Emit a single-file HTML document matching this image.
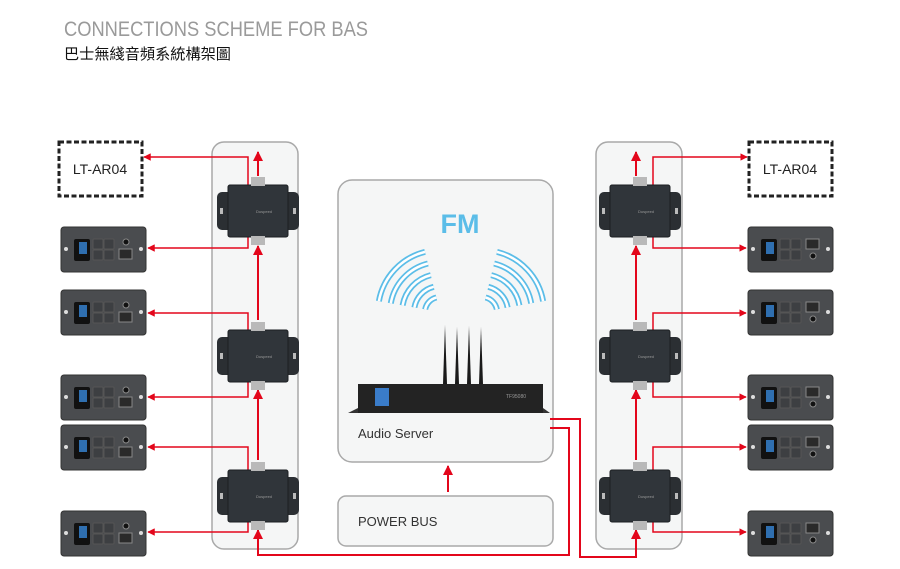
<!DOCTYPE html>
<html><head><meta charset="utf-8"><style>
html,body{margin:0;padding:0;background:#fff;width:900px;height:569px;overflow:hidden}
svg{display:block}
</style></head><body>
<svg width="900" height="569" viewBox="0 0 900 569" xmlns="http://www.w3.org/2000/svg">
<defs>
<marker id="ar" viewBox="0 0 10 10" refX="9" refY="5" markerWidth="5" markerHeight="5" orient="auto"><path d="M0,0L10,5L0,10z" fill="#e3061b"/></marker>
<g id="jb">
  <rect x="-41" y="-19" width="82" height="38" rx="5" fill="#2b2f33"/>
  <rect x="-30" y="-26" width="60" height="52" rx="2" fill="#30353a" stroke="#1c1f22"/>
  <rect x="-38" y="-3" width="3" height="6" fill="#bbb"/><rect x="35" y="-3" width="3" height="6" fill="#bbb"/>
  <rect x="-7" y="-34" width="14" height="9" fill="#b9b9b9"/><rect x="-7" y="25" width="14" height="9" fill="#b9b9b9"/>
  <text x="-2" y="2" font-size="4" fill="#999" font-family="Liberation Sans">Duspeed</text>
</g>
<g id="pl">
  <rect x="0" y="0" width="85" height="45" rx="3" fill="#4a4c4f" stroke="#333"/>
  <circle cx="5" cy="22" r="2" fill="#ddd"/><circle cx="80" cy="22" r="2" fill="#ddd"/>
  <rect x="13" y="12" width="16" height="22" rx="2" fill="#111"/>
  <rect x="18" y="15" width="8" height="12" fill="#2f6fb0"/>
  <rect x="32" y="12" width="10" height="10" rx="1" fill="#3d3f42" stroke="#555"/>
  <rect x="43" y="12" width="10" height="10" rx="1" fill="#3d3f42" stroke="#555"/>
  <rect x="32" y="23" width="10" height="10" rx="1" fill="#3d3f42" stroke="#555"/>
  <rect x="43" y="23" width="10" height="10" rx="1" fill="#3d3f42" stroke="#555"/>
  <circle cx="65" cy="15" r="3" fill="#111" stroke="#888"/>
  <rect x="58" y="22" width="13" height="10" fill="#2a2a2a" stroke="#888"/>
</g>
<g id="pr">
  <rect x="0" y="0" width="85" height="45" rx="3" fill="#4a4c4f" stroke="#333"/>
  <circle cx="5" cy="22" r="2" fill="#ddd"/><circle cx="80" cy="22" r="2" fill="#ddd"/>
  <rect x="13" y="12" width="16" height="22" rx="2" fill="#111"/>
  <rect x="18" y="15" width="8" height="12" fill="#2f6fb0"/>
  <rect x="32" y="12" width="10" height="10" rx="1" fill="#3d3f42" stroke="#555"/>
  <rect x="43" y="12" width="10" height="10" rx="1" fill="#3d3f42" stroke="#555"/>
  <rect x="32" y="23" width="10" height="10" rx="1" fill="#3d3f42" stroke="#555"/>
  <rect x="43" y="23" width="10" height="10" rx="1" fill="#3d3f42" stroke="#555"/>
  <rect x="58" y="12" width="13" height="10" fill="#2a2a2a" stroke="#888"/>
  <circle cx="65" cy="29" r="3" fill="#111" stroke="#888"/>
</g>
<g id="arcs">
  <path d="M425,251.9 A62,62 0 0 0 378.9,301.2"/>
  <path d="M427.9,263.5 A50,50 0 0 0 390.8,303.3"/>
  <path d="M430.8,275.1 A38,38 0 0 0 402.6,305.4"/>
  <path d="M433.7,286.8 A26,26 0 0 0 414.4,307.5"/>
  <path d="M436.4,297.5 A15,15 0 0 0 425.2,309.4"/>
</g>
</defs>

<text x="64" y="36" font-family="Liberation Sans, sans-serif" font-size="21" fill="#9a9a9a" textLength="304" lengthAdjust="spacingAndGlyphs">CONNECTIONS SCHEME FOR BAS</text>
<text x="64" y="59" font-family="Liberation Sans, 'Noto Sans CJK TC', sans-serif" font-size="15" fill="#111" textLength="167" lengthAdjust="spacingAndGlyphs">巴士無綫音頻系統構架圖</text>

<rect x="212" y="142" width="86" height="407" rx="12" fill="#f5f6f6" stroke="#a9a9a9" stroke-width="1.5"/>
<rect x="596" y="142" width="86" height="407" rx="12" fill="#f5f6f6" stroke="#a9a9a9" stroke-width="1.5"/>
<rect x="338" y="180" width="215" height="282" rx="14" fill="#f5f6f6" stroke="#a9a9a9" stroke-width="1.5"/>
<rect x="338" y="496" width="215" height="50" rx="8" fill="#f5f6f6" stroke="#a9a9a9" stroke-width="1.5"/>

<text x="460" y="233" text-anchor="middle" font-family="Liberation Sans, sans-serif" font-weight="bold" font-size="27" fill="#5bbde8">FM</text>
<g fill="none" stroke="#5bbde8" stroke-width="6">
  <use href="#arcs"/>
  <use href="#arcs" transform="translate(922,0) scale(-1,1)"/>
</g>
<g fill="none" stroke="#fff" stroke-width="2.5">
  <use href="#arcs"/>
  <use href="#arcs" transform="translate(922,0) scale(-1,1)"/>
</g>

<g fill="#1a1a1a">
  <path d="M443,384 L445,325 L447,384z"/><path d="M455,384 L457,327 L459,384z"/>
  <path d="M467,384 L469,326 L471,384z"/><path d="M479,384 L481,327 L483,384z"/>
</g>
<rect x="358" y="384" width="185" height="29" fill="#232323"/>
<path d="M348,413 L358,408 L358,413z M543,408 L550,413 L543,413z" fill="#333"/>
<rect x="375" y="388" width="14" height="18" fill="#3a7cc9"/>
<text x="506" y="398" font-size="5" fill="#999" font-family="Liberation Sans">TF95080</text>
<text x="358" y="438" font-family="Liberation Sans, sans-serif" font-size="13" fill="#333">Audio Server</text>
<text x="358" y="526" font-family="Liberation Sans, sans-serif" font-size="13" fill="#333">POWER BUS</text>

<rect x="59" y="142" width="83" height="54" fill="#fff" stroke="#222" stroke-width="3" stroke-dasharray="5,2.5"/>
<text x="100" y="174" text-anchor="middle" font-family="Liberation Sans, sans-serif" font-size="14" fill="#222">LT-AR04</text>
<rect x="749" y="142" width="83" height="54" fill="#fff" stroke="#222" stroke-width="3" stroke-dasharray="5,2.5"/>
<text x="790" y="174" text-anchor="middle" font-family="Liberation Sans, sans-serif" font-size="14" fill="#222">LT-AR04</text>

<use href="#pl" x="61" y="227"/><use href="#pl" x="61" y="290"/><use href="#pl" x="61" y="375"/><use href="#pl" x="61" y="425"/><use href="#pl" x="61" y="511"/>
<use href="#pr" x="748" y="227"/><use href="#pr" x="748" y="290"/><use href="#pr" x="748" y="375"/><use href="#pr" x="748" y="425"/><use href="#pr" x="748" y="511"/>

<g fill="none" stroke="#e3061b" stroke-width="1.5" marker-end="url(#ar)">
  <path d="M248,186 V157 H144"/><path d="M248,236 V248 H148"/>
  <path d="M248,330 V313 H148"/><path d="M248,381 V397 H148"/>
  <path d="M248,471 V447 H148"/><path d="M248,521 V532 H148"/>
  <path d="M653,186 V157 H747"/><path d="M653,236 V248 H746"/>
  <path d="M653,330 V313 H746"/><path d="M653,381 V397 H746"/>
  <path d="M653,471 V447 H746"/><path d="M653,521 V532 H746"/>
</g>
<g fill="none" stroke="#e3061b" stroke-width="2" marker-end="url(#ar)">
  <path d="M258,176 V152"/><path d="M258,320 V246"/><path d="M258,460 V390"/>
  <path d="M636,176 V152"/><path d="M636,320 V246"/><path d="M636,460 V390"/>
  <path d="M448,492 V466"/>
  <path d="M550,428 H569 V555 H258 V530"/>
  <path d="M550,419 H580 V557 H636 V530"/>
</g>

<use href="#jb" x="258" y="211"/><use href="#jb" x="258" y="356"/><use href="#jb" x="258" y="496"/>
<use href="#jb" x="640" y="211"/><use href="#jb" x="640" y="356"/><use href="#jb" x="640" y="496"/>
</svg>
</body></html>
